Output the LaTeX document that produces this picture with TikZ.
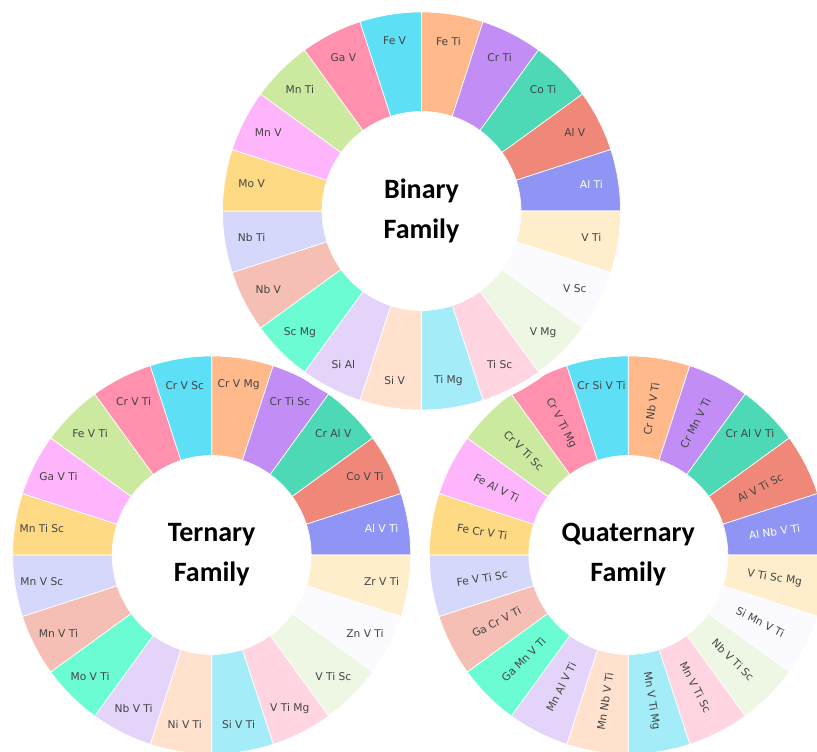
\documentclass[tikz,border=0pt]{standalone}
\usepackage{fontspec}
\newfontfamily\labelfont{DejaVu Sans}
\newfontfamily\titlefont{Carlito}

\definecolor{labelgray}{HTML}{444444}
\definecolor{segorange}{HTML}{FFB98A}
\definecolor{segpurple}{HTML}{C28EF5}
\definecolor{segteal}{HTML}{4DD9B5}
\definecolor{segsalmon}{HTML}{F0887A}
\definecolor{segblue}{HTML}{9095F5}
\definecolor{segcream}{HTML}{FEEECC}
\definecolor{segwhite}{HTML}{FBFAFF}
\definecolor{segmint}{HTML}{EEF7E4}
\definecolor{segrose}{HTML}{FFD5E2}
\definecolor{segsky}{HTML}{A3ECF8}
\definecolor{segpeach}{HTML}{FFE1CE}
\definecolor{seglilac}{HTML}{E5D4FA}
\definecolor{segaqua}{HTML}{6CFCD4}
\definecolor{segcoral}{HTML}{F6BFB5}
\definecolor{segperiwinkle}{HTML}{D5D8FA}
\definecolor{segyellow}{HTML}{FFDA85}
\definecolor{segviolet}{HTML}{FFB5FC}
\definecolor{seglime}{HTML}{CCEA9F}
\definecolor{segpink}{HTML}{FF90AE}
\definecolor{segcyan}{HTML}{5DDFF5}

\newcommand{\ringout}{199}
\newcommand{\ringin}{99.5}
% #1 centre, #2 slot (clockwise from top), #3 fill, #4 label radius, #5 label options, #6 label
\newcommand{\ringseg}[6]{%
  \filldraw[segfill, fill=#3, shift={(#1)}] ({90-18*#2}:\ringout) arc[start angle={90-18*#2}, delta angle=-18, radius=\ringout] -- ({72-18*#2}:\ringin) arc[start angle={72-18*#2}, delta angle=18, radius=\ringin] -- cycle;
  \node[seglabel, #5] (#1-#2) at ([shift={({81-18*#2}:#4)}]#1) {#6};}

\tikzset{
  segfill/.style={draw=white, line width=0.5pt},
  seglabel/.style={font=\labelfont\fontsize{8}{9.6}\selectfont, text=labelgray, inner sep=0.75pt},
  familytitle/.style={font=\titlefont\bfseries\fontsize{21}{30}\selectfont, align=center, text=black}
}

\begin{document}
\begin{tikzpicture}[x=0.75pt,y=0.75pt]
    \useasboundingbox (0,0) rectangle (817,751);
    \fill[white] (0,0) rectangle (817,751);
    \clip (0,0) rectangle (817,751);

    \coordinate (bin) at (421.5,540);
    \coordinate (ter) at (211.7,196);
    \coordinate (qua) at (628.3,196);

    % Ternary ring
    \ringseg{ter}{0}{segorange}{172}{}{Cr V Mg}
    \ringseg{ter}{1}{segpurple}{172}{}{Cr Ti Sc}
    \ringseg{ter}{2}{segteal}{172}{}{Cr Al V}
    \ringseg{ter}{3}{segsalmon}{172}{}{Co V Ti}
    \ringseg{ter}{4}{segblue}{172}{text=white}{Al V Ti}
    \ringseg{ter}{5}{segcream}{172}{}{Zr V Ti}
    \ringseg{ter}{6}{segwhite}{172}{}{Zn V Ti}
    \ringseg{ter}{7}{segmint}{172}{}{V Ti Sc}
    \ringseg{ter}{8}{segrose}{172}{}{V Ti Mg}
    \ringseg{ter}{9}{segsky}{172}{}{Si V Ti}
    \ringseg{ter}{10}{segpeach}{172}{}{Ni V Ti}
    \ringseg{ter}{11}{seglilac}{172}{}{Nb V Ti}
    \ringseg{ter}{12}{segaqua}{172}{}{Mo V Ti}
    \ringseg{ter}{13}{segcoral}{172}{}{Mn V Ti}
    \ringseg{ter}{14}{segperiwinkle}{172}{}{Mn V Sc}
    \ringseg{ter}{15}{segyellow}{172}{}{Mn Ti Sc}
    \ringseg{ter}{16}{segviolet}{172}{}{Ga V Ti}
    \ringseg{ter}{17}{seglime}{172}{}{Fe V Ti}
    \ringseg{ter}{18}{segpink}{172}{}{Cr V Ti}
    \ringseg{ter}{19}{segcyan}{172}{}{Cr V Sc}
    \node[familytitle] (ter-title) at (ter) {Ternary\\Family};

    % Quaternary ring
    \ringseg{qua}{0}{segorange}{148}{rotate=81}{Cr Nb V Ti}
    \ringseg{qua}{1}{segpurple}{148}{rotate=63}{Cr Mn V Ti}
    \ringseg{qua}{2}{segteal}{172}{}{Cr Al V Ti}
    \ringseg{qua}{3}{segsalmon}{148}{rotate=27}{Al V Ti Sc}
    \ringseg{qua}{4}{segblue}{148}{rotate=9, text=white}{Al Nb V Ti}
    \ringseg{qua}{5}{segcream}{148}{rotate=-9}{V Ti Sc Mg}
    \ringseg{qua}{6}{segwhite}{148}{rotate=-27}{Si Mn V Ti}
    \ringseg{qua}{7}{segmint}{148}{rotate=-45}{Nb V Ti Sc}
    \ringseg{qua}{8}{segrose}{148}{rotate=-63}{Mn V Ti Sc}
    \ringseg{qua}{9}{segsky}{148}{rotate=-81}{Mn V Ti Mg}
    \ringseg{qua}{10}{segpeach}{148}{rotate=81}{Mn Nb V Ti}
    \ringseg{qua}{11}{seglilac}{148}{rotate=63}{Mn Al V Ti}
    \ringseg{qua}{12}{segaqua}{148}{rotate=45}{Ga Mn V Ti}
    \ringseg{qua}{13}{segcoral}{148}{rotate=27}{Ga Cr V Ti}
    \ringseg{qua}{14}{segperiwinkle}{148}{rotate=9}{Fe V Ti Sc}
    \ringseg{qua}{15}{segyellow}{148}{rotate=-9}{Fe Cr V Ti}
    \ringseg{qua}{16}{segviolet}{148}{rotate=-27}{Fe Al V Ti}
    \ringseg{qua}{17}{seglime}{148}{rotate=-45}{Cr V Ti Sc}
    \ringseg{qua}{18}{segpink}{148}{rotate=-63}{Cr V Ti Mg}
    \ringseg{qua}{19}{segcyan}{172}{}{Cr Si V Ti}
    \node[familytitle] (qua-title) at (qua) {Quaternary\\Family};

    % Binary ring, on top with a white rim
    \fill[white] (bin) circle[radius=205];
    \ringseg{bin}{0}{segorange}{172}{}{Fe Ti}
    \ringseg{bin}{1}{segpurple}{172}{}{Cr Ti}
    \ringseg{bin}{2}{segteal}{172}{}{Co Ti}
    \ringseg{bin}{3}{segsalmon}{172}{}{Al V}
    \ringseg{bin}{4}{segblue}{172}{text=white}{Al Ti}
    \ringseg{bin}{5}{segcream}{172}{}{V Ti}
    \ringseg{bin}{6}{segwhite}{172}{}{V Sc}
    \ringseg{bin}{7}{segmint}{172}{}{V Mg}
    \ringseg{bin}{8}{segrose}{172}{}{Ti Sc}
    \ringseg{bin}{9}{segsky}{172}{}{Ti Mg}
    \ringseg{bin}{10}{segpeach}{172}{}{Si V}
    \ringseg{bin}{11}{seglilac}{172}{}{Si Al}
    \ringseg{bin}{12}{segaqua}{172}{}{Sc Mg}
    \ringseg{bin}{13}{segcoral}{172}{}{Nb V}
    \ringseg{bin}{14}{segperiwinkle}{172}{}{Nb Ti}
    \ringseg{bin}{15}{segyellow}{172}{}{Mo V}
    \ringseg{bin}{16}{segviolet}{172}{}{Mn V}
    \ringseg{bin}{17}{seglime}{172}{}{Mn Ti}
    \ringseg{bin}{18}{segpink}{172}{}{Ga V}
    \ringseg{bin}{19}{segcyan}{172}{}{Fe V}
    \node[familytitle] (bin-title) at (bin) {Binary\\Family};
\end{tikzpicture}
\end{document}
